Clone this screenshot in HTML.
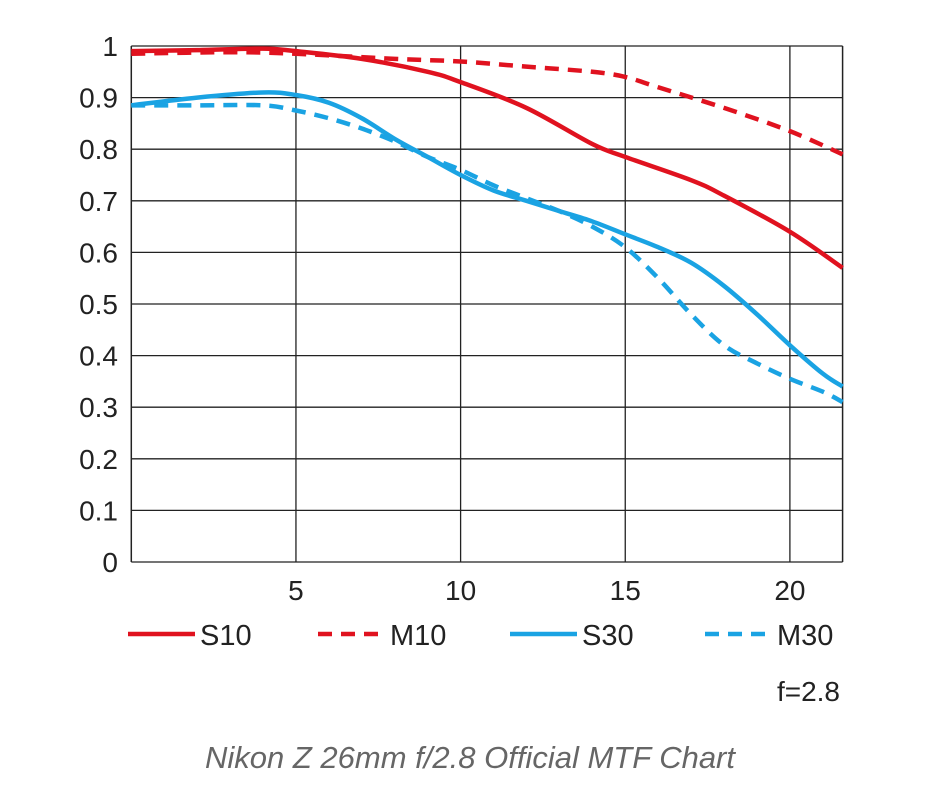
<!DOCTYPE html>
<html><head><meta charset="utf-8"><style>
html,body{margin:0;padding:0;background:#fff;}
svg{display:block;font-family:"Liberation Sans",sans-serif;}
</style></head><body>
<svg id="chart" width="939" height="800">
<g id="grid"></g><g id="series"></g><g id="ticks"></g>
<g id="legend"></g>
<text x="840" y="701" text-anchor="end" font-size="28" fill="#222">f=2.8</text>
<text x="470" y="768" text-anchor="middle" font-size="31" font-style="italic" fill="#666">Nikon Z 26mm f/2.8 Official MTF Chart</text>
</svg>
<script>
const xTicks=[5,10,15,20];
const yTicks=[0,0.1,0.2,0.3,0.4,0.5,0.6,0.7,0.8,0.9,1];
const yTickLabels=["0","0.1","0.2","0.3","0.4","0.5","0.6","0.7","0.8","0.9","1"];
const xS10=[0,2,4,5,7,9,10,12,14,15,17,18,20,21.6];
const yS10=[0.99,0.992,0.995,0.99,0.975,0.95,0.93,0.88,0.81,0.785,0.74,0.71,0.64,0.57];
const xM10=[0,3,5,8,10,12,14,15,16,18,20,21.6];
const yM10=[0.985,0.988,0.985,0.975,0.97,0.96,0.95,0.94,0.92,0.88,0.835,0.79];
const xS30=[0,2,4,5,6,7,8,9,10,11,12,13,14,15,16,17,18,19,20,21,21.6];
const yS30=[0.885,0.9,0.91,0.905,0.89,0.86,0.82,0.785,0.75,0.72,0.7,0.68,0.66,0.635,0.61,0.58,0.535,0.48,0.42,0.365,0.34];
const xM30=[0,2,4,5,6,7,8,9,10,11,12,13,14,15,16,17,18,19,20,21,21.6];
const yM30=[0.885,0.885,0.885,0.875,0.86,0.84,0.815,0.785,0.76,0.73,0.705,0.68,0.65,0.61,0.55,0.48,0.42,0.385,0.355,0.33,0.31];
const seriesNames=["S10","M10","S30","M30"];
const X0=131.3,XS=32.93,Y0=562,YS=516,XMAX=21.6;
const sx=v=>X0+v*XS, sy=v=>Y0-v*YS;
const NS="http://www.w3.org/2000/svg";
function mk(t,a,p){const e=document.createElementNS(NS,t);for(const k in a)e.setAttribute(k,a[k]);p.appendChild(e);return e;}
const grid=document.getElementById('grid'),ticks=document.getElementById('ticks');
yTicks.forEach((v,i)=>{
 const l=mk('line',{x1:sx(0),x2:sx(XMAX),y1:sy(v),y2:sy(v),stroke:'#222','stroke-width':1.3},grid);
 
 
 const t=mk('text',{x:118,y:sy(v)+10,'text-anchor':'end','font-size':28,fill:'#222'},ticks);
 t.textContent=yTickLabels[i];
 
 
});
xTicks.forEach(v=>{
 const l=mk('line',{x1:sx(v),x2:sx(v),y1:sy(0),y2:sy(1),stroke:'#222','stroke-width':1.3},grid);
 
 
 const t=mk('text',{x:sx(v),y:600,'text-anchor':'middle','font-size':28,fill:'#222'},ticks);
 t.textContent=String(v);
 
 
});
[[sx(0),sx(0)],[sx(XMAX),sx(XMAX)]].forEach(p=>{
 const l=mk('line',{x1:p[0],x2:p[1],y1:sy(0),y2:sy(1),stroke:'#222','stroke-width':1.5},grid);
 
 
});
function path(xs,ys){
 const P=xs.map((x,i)=>[sx(x),sy(ys[i])]);
 let d='M'+P[0][0]+','+P[0][1];
 for(let i=0;i<P.length-1;i++){
  const p0=P[Math.max(i-1,0)],p1=P[i],p2=P[i+1],p3=P[Math.min(i+2,P.length-1)];
  const c1=[p1[0]+(p2[0]-p0[0])/6,p1[1]+(p2[1]-p0[1])/6],c2=[p2[0]-(p3[0]-p1[0])/6,p2[1]-(p3[1]-p1[1])/6];
  d+=` C${c1[0]},${c1[1]} ${c2[0]},${c2[1]} ${p2[0]},${p2[1]}`;
 }
 return d;
}
const RED='#e0121f',BLUE='#1aa3e3';
const defs=[[xS10,yS10,RED,null],[xM10,yM10,RED,'14,9'],[xS30,yS30,BLUE,null],[xM30,yM30,BLUE,'14,9']];
const sg=document.getElementById('series');
defs.forEach((s,i)=>{
 const a={d:path(s[0],s[1]),fill:'none',stroke:s[2],'stroke-width':4.5};
 if(s[3])a['stroke-dasharray']=s[3];
 const p=mk('path',a,sg);
 
 
});
const lg=document.getElementById('legend');
const lx=[128,318,510,705];
defs.forEach((s,i)=>{
 const a={x1:lx[i],x2:lx[i]+67,y1:634,y2:634,stroke:s[2],'stroke-width':4.5};
 if(s[3])a['stroke-dasharray']='14,9';
 const l=mk('line',a,lg);
 
 
 const t=mk('text',{x:lx[i]+72,y:645,'font-size':29,fill:'#222'},lg);
 t.textContent=seriesNames[i];
 
 
});
</script>
</body></html>
